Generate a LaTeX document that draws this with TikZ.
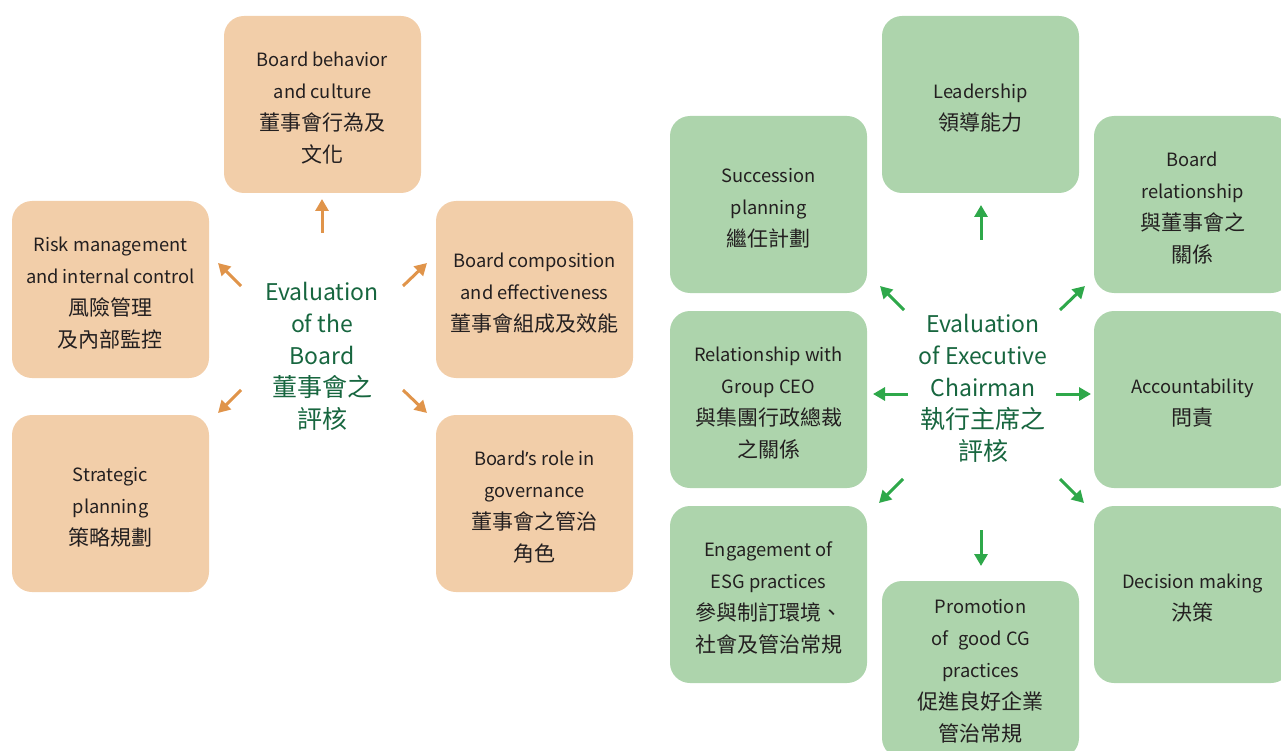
\documentclass[tikz,border=0pt]{standalone}
\usepackage{fontspec}
\setmainfont{Noto Sans CJK TC}
\newfontfamily\latinfont{Noto Sans}
\usetikzlibrary{arrows.meta}
\definecolor{orfill}{HTML}{F2CEA9}
\definecolor{orarr}{HTML}{E0944A}
\definecolor{grfill}{HTML}{ADD4AC}
\definecolor{grarr}{HTML}{2EA84A}
\definecolor{ttl}{HTML}{17663F}
\definecolor{txt}{HTML}{231F20}
\newcommand\zh{\fontsize{21}{32}\selectfont}
\newcommand\tzh{\fontsize{25}{31}\selectfont}
\tikzset{
  box/.style={rounded corners=20pt, minimum width=197pt, minimum height=177pt, inner sep=0pt},
  obox/.style={box, fill=orfill},
  gbox/.style={box, fill=grfill},
  btxt/.style={align=center, text=txt, inner sep=0pt, font=\fontsize{18.3}{32}\selectfont},
  title/.style={align=center, text=ttl, font=\fontsize{23}{32}\selectfont, inner sep=0pt},
  oarr/.style={draw=orarr, line width=3pt, -{Triangle[length=12pt,width=13pt]}},
  garr/.style={draw=grarr, line width=3pt, -{Triangle[length=12pt,width=13pt]}},
}
\newcommand\boxtext[2]{\node[btxt] (#1-t) at ([yshift=-3.5pt]#1.center) {#2};}
\begin{document}
\begin{tikzpicture}[x=1pt,y=-1pt]
\useasboundingbox (0,0) rectangle (1281,751);
\clip (0,0) rectangle (1281,751);
% ---- left: Board ----
\node[obox] (bbc) at (322.5,104.5) {};
\node[obox] (rm) at (110.5,289.5) {};
\node[obox] (bce) at (534.5,289.5) {};
\node[obox] (sp) at (110.5,503.5) {};
\node[obox] (brg) at (534.5,503.5) {};
\boxtext{bbc}{Board behavior\\and culture\\{\zh 董事會行為及}\\{\zh 文化}}
\boxtext{rm}{Risk management\\and internal control\\{\zh 風險管理}\\{\zh 及內部監控}}
\boxtext{bce}{Board composition\\and effectiveness\\{\zh 董事會組成及效能}}
\boxtext{sp}{Strategic\\planning\\{\zh 策略規劃}}
\boxtext{brg}{Board{\latinfont ’}s role in\\governance\\{\zh 董事會之管治}\\{\zh 角色}}
\node[title] (evb) at (322,356) {Evaluation\\of the\\Board\\{\tzh 董事會之}\\{\tzh 評核}};
\coordinate (b1s) at (322,233); \coordinate (b1e) at (322,199);
\coordinate (b2s) at (241,286); \coordinate (b2e) at (218,263);
\coordinate (b3s) at (403,286); \coordinate (b3e) at (427,263);
\coordinate (b4s) at (241,390); \coordinate (b4e) at (218,413);
\coordinate (b5s) at (403,390); \coordinate (b5e) at (427,413);
\draw[oarr] (b1s) -- (b1e);
\draw[oarr] (b2s) -- (b2e);
\draw[oarr] (b3s) -- (b3e);
\draw[oarr] (b4s) -- (b4e);
\draw[oarr] (b5s) -- (b5e);
% ---- right: Executive Chairman ----
\node[gbox] (ld) at (980.5,104.5) {};
\node[gbox] (sc) at (768.5,204.5) {};
\node[gbox] (br) at (1192.5,204.5) {};
\node[gbox] (gc) at (768.5,399.5) {};
\node[gbox] (ac) at (1192.5,399.5) {};
\node[gbox] (esg) at (768.5,594.5) {};
\node[gbox] (dm) at (1192.5,594.5) {};
\node[gbox] (pcg) at (980.5,669.5) {};
\boxtext{ld}{Leadership\\{\zh 領導能力}}
\boxtext{sc}{Succession\\planning\\{\zh 繼任計劃}}
\boxtext{br}{Board\\relationship\\{\zh 與董事會之}\\{\zh 關係}}
\boxtext{gc}{Relationship with\\Group CEO\\{\zh 與集團行政總裁}\\{\zh 之關係}}
\boxtext{ac}{Accountability\\{\zh 問責}}
\boxtext{esg}{Engagement of\\ESG practices\\{\zh 參與制訂環境、}\\{\zh 社會及管治常規}}
\boxtext{dm}{Decision making\\{\zh 決策}}
\node[btxt] (pcg-t) at ([yshift=-2pt]pcg.center) {Promotion\\of\hspace{0.55em}good CG\\practices\\{\zh 促進良好企業}\\{\zh 管治常規}};
\node[title] (eve) at (983,388) {Evaluation\\of Executive\\Chairman\\{\tzh 執行主席之}\\{\tzh 評核}};
\coordinate (g1s) at (981,240); \coordinate (g1e) at (981,205);
\coordinate (g2s) at (904,310); \coordinate (g2e) at (880,286);
\coordinate (g3s) at (1060,310); \coordinate (g3e) at (1085,286);
\coordinate (g4s) at (908,394); \coordinate (g4e) at (873,394);
\coordinate (g5s) at (1056,394); \coordinate (g5e) at (1091,394);
\coordinate (g6s) at (903,479); \coordinate (g6e) at (879,503);
\coordinate (g7s) at (1060,479); \coordinate (g7e) at (1084,503);
\coordinate (g8s) at (981,530); \coordinate (g8e) at (981,566);
\foreach \i in {1,...,8} {\draw[garr] (g\i s) -- (g\i e);}
\end{tikzpicture}
\end{document}
